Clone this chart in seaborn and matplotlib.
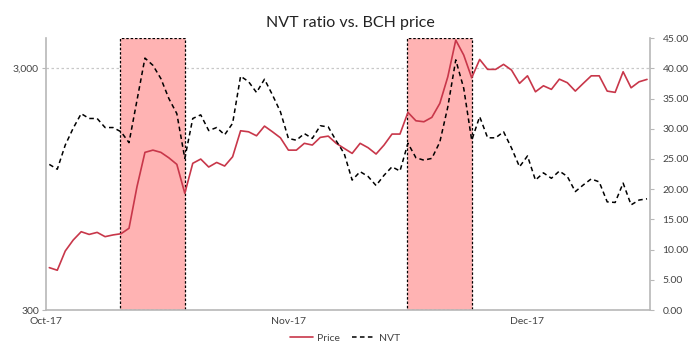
# NVT ratio vs. BCH price

import pandas as pd
import seaborn as sns
import matplotlib.pyplot as plt
from matplotlib.ticker import NullLocator

# daily data, Oct 2 2017 -> Dec 16 2017
dates = pd.date_range("2017-10-02", periods=76, freq="D")

price = [449, 438, 526, 584, 632, 616, 628, 603, 613, 620,
         653, 970, 1345, 1374, 1345, 1277, 1200, 911, 1212, 1262,
         1170, 1222, 1181, 1290, 1652, 1636, 1575, 1727, 1636, 1545,
         1374, 1374, 1466, 1442, 1551, 1570, 1466, 1397, 1332, 1466,
         1406, 1324, 1442, 1601, 1601, 1968, 1817, 1800, 1877, 2144,
         2760, 3915, 3395, 2736, 3258, 2963, 2963, 3108, 2943, 2594,
         2787, 2394, 2535, 2450, 2700, 2610, 2410, 2594, 2787, 2787,
         2410, 2381, 2897, 2487, 2633, 2694]

nvt = [24.1, 23.3, 27.3, 30.1, 32.5, 31.7, 31.7, 30.2, 30.2, 29.5,
       27.7, 34.7, 41.7, 40.5, 38.3, 35.0, 32.5, 25.1, 31.7, 32.3,
       29.7, 30.2, 29.0, 30.9, 38.7, 37.8, 36.0, 38.2, 35.6, 32.8,
       28.4, 28.1, 29.2, 28.4, 30.5, 30.3, 28.0, 25.9, 21.5, 22.9,
       22.1, 20.6, 22.3, 23.7, 23.0, 27.6, 25.2, 24.8, 25.1, 27.8,
       33.6, 41.4, 36.7, 28.1, 32.0, 28.5, 28.5, 29.5, 26.8, 23.7,
       25.5, 21.5, 22.7, 21.8, 23.0, 22.1, 19.6, 20.7, 21.7, 21.2,
       17.9, 17.8, 21.0, 17.4, 18.2, 18.4]

# highlighted windows (start, end)
highlights = [("2017-10-10 21:00", "2017-10-19 00:00"),
              ("2017-11-15 21:00", "2017-11-24 00:00")]

month_labels = ["Oct-17", "Nov-17", "Dec-17"]

df = pd.DataFrame({"date": dates, "Price": price, "NVT": nvt})

sns.set_style("white")
plt.rcParams["font.family"] = ["Lato", "DejaVu Sans"]

fig = plt.figure(figsize=(7, 3.53), dpi=100)
ax = fig.add_axes([0.0657, 0.1218, 0.8629, 0.7702])
ax2 = ax.twinx()

grey = "#b8b8b8"
red = "#c8374a"

for start, end in highlights:
    ax.axvspan(pd.Timestamp(start), pd.Timestamp(end), ymin=0, ymax=1,
               facecolor="#ffb3b3", edgecolor="black", linestyle=(0, (2, 1.5)),
               linewidth=0.9, zorder=1)

sns.lineplot(data=df, x="date", y="Price", ax=ax, color=red, linewidth=1.2,
             label="Price", zorder=3)
sns.lineplot(data=df, x="date", y="NVT", ax=ax2, color="black", linewidth=1.1,
             label="NVT", zorder=3)
ax2.lines[0].set_dashes((3, 2.2))

# left: log price axis
ax.set_yscale("log")
ax.set_ylim(300, 3990)
ax.set_yticks([300, 3000])
ax.set_yticklabels(["300", "3,000"])
ax.yaxis.set_minor_locator(NullLocator())
ax.grid(axis="y", which="major", color="#c8c8c8", linestyle=(0, (2, 2)), linewidth=0.9)
ax.set_axisbelow(True)

# right: NVT axis
ax2.set_ylim(0, 45)
ax2.set_yticks([0, 5, 10, 15, 20, 25, 30, 35, 40, 45])
ax2.set_yticklabels([f"{v:.2f}" for v in ax2.get_yticks()])

# x axis
left = pd.Timestamp("2017-10-01 14:00")
right = pd.Timestamp("2017-12-16 09:00")
ax.set_xlim(left, right)
ax.set_xticks([left, pd.Timestamp("2017-11-01"), pd.Timestamp("2017-12-01")])
ax.set_xticklabels(month_labels)
ax.set_xlabel("")
ax.set_ylabel("")
ax2.set_ylabel("")

for s in ["top", "right"]:
    ax.spines[s].set_visible(False)
for s in ["top", "left", "bottom"]:
    ax2.spines[s].set_visible(False)
for a, s in [(ax, "left"), (ax, "bottom"), (ax2, "right")]:
    a.spines[s].set_color(grey)
    a.spines[s].set_linewidth(1.2)

ax.tick_params(axis="both", colors=grey, labelcolor="#444444", labelsize=7.5,
               length=3, width=0.8, pad=2)
ax2.tick_params(axis="y", colors=grey, labelcolor="#444444", labelsize=7.5,
                length=3, width=0.8, pad=6)

# legend
h1, l1 = ax.get_legend_handles_labels()
h2, l2 = ax2.get_legend_handles_labels()
ax.get_legend().remove()
ax2.get_legend().remove()
fig.legend(h1 + h2, l1 + l2, loc="center", bbox_to_anchor=(0.493, 0.042), ncol=2,
           frameon=False, fontsize=7.5, handlelength=2.2, columnspacing=1.2,
           handletextpad=0.4, labelcolor="#444444")

fig.suptitle("NVT ratio vs. BCH price", y=0.955, fontsize=11.5, color="#222222")

fig.savefig("out.png", dpi=100)
